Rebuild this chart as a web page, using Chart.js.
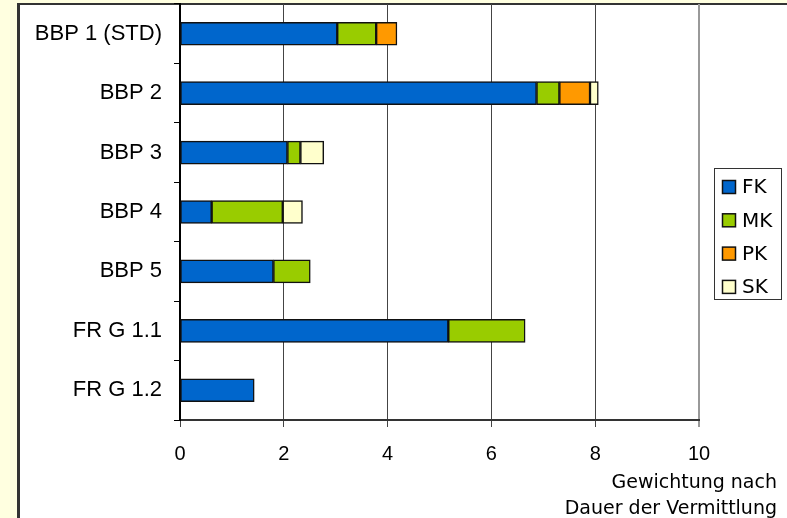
<!DOCTYPE html>
<html>
<head>
<meta charset="utf-8">
<script src="https://cdn.jsdelivr.net/npm/chart.js@4/dist/chart.umd.min.js"></script>
<style>
  html, body { margin: 0; padding: 0; background: #FFFFE0; }
  #wrap { position: relative; width: 787px; height: 518px; }
</style>
</head>
<body>
<div id="wrap"><canvas id="c" width="787" height="518"></canvas></div>
<script>
// Weighted duration per variant, split by component
const categories = ['BBP 1 (STD)', 'BBP 2', 'BBP 3', 'BBP 4', 'BBP 5', 'FR G 1.1', 'FR G 1.2'];
const fk = [3.03, 6.87, 2.07, 0.61, 1.80, 5.17, 1.43];
const mk = [0.75, 0.44, 0.25, 1.37, 0.71, 1.48, null];
const pk = [0.40, 0.59, null, null, null, null, null];
const sk = [null, 0.16, 0.45, 0.38, null, null, null];
const seriesNames = ['FK', 'MK', 'PK', 'SK'];
const seriesColors = ['#0066CC', '#99CC00', '#FF9900', '#FFFFCC'];
const xTicks = [0, 2, 4, 6, 8, 10];
const axisTitle = ['Gewichtung nach', 'Dauer der Vermittlung'];

const seriesValues = [fk, mk, pk, sk];

// Pale frame with dark left/top edge behind the white chart panel
const framePlugin = {
  id: 'frame',
  beforeDraw(chart) {
    const ctx = chart.ctx;
    ctx.save();
    ctx.fillStyle = '#FFFFE0';
    ctx.fillRect(0, 0, chart.width, chart.height);
    ctx.fillStyle = '#FFFFFF';
    ctx.fillRect(19, 4, chart.width - 19, chart.height - 4);
    ctx.fillStyle = '#333333';
    ctx.fillRect(17, 3, chart.width - 17, 2);
    ctx.fillRect(17, 3, 3, chart.height - 3);
    ctx.restore();
  }
};

// Boxed legend to the right of the plot, plus the two-line axis title
const sidePlugin = {
  id: 'side',
  afterDraw(chart) {
    const ctx = chart.ctx;
    ctx.save();
    ctx.strokeStyle = '#333333';
    ctx.lineWidth = 1;
    ctx.strokeRect(714.5, 168.5, 67, 131);
    ctx.font = '20px "DejaVu Sans"';
    ctx.textBaseline = 'middle';
    ctx.textAlign = 'left';
    chart.data.datasets.forEach((ds, i) => {
      const cy = 187 + i * 33.3;
      ctx.fillStyle = ds.backgroundColor;
      ctx.fillRect(722.5, cy - 6.5, 13, 13);
      ctx.strokeStyle = '#111111';
      ctx.lineWidth = 1.5;
      ctx.strokeRect(722.5, cy - 6.5, 13, 13);
      ctx.fillStyle = '#000000';
      ctx.fillText(ds.label, 742, cy + 1);
    });
    ctx.font = '19px "DejaVu Sans"';
    ctx.textAlign = 'right';
    ctx.textBaseline = 'alphabetic';
    ctx.fillText(axisTitle[0], 777, 488);
    ctx.fillText(axisTitle[1], 777, 514);
    ctx.restore();
  }
};

new Chart(document.getElementById('c'), {
  type: 'bar',
  data: {
    labels: categories,
    datasets: seriesNames.map((name, i) => ({
      label: name,
      data: seriesValues[i],
      backgroundColor: seriesColors[i],
      borderColor: '#111111',
      borderWidth: 1.5,
      borderSkipped: false,
      barThickness: 23
    }))
  },
  options: {
    indexAxis: 'y',
    responsive: false,
    animation: false,
    layout: { padding: { top: 4, right: 88, left: 0, bottom: 0 } },
    plugins: {
      legend: { display: false },
      tooltip: { enabled: false },
      title: { display: false }
    },
    scales: {
      x: {
        stacked: true,
        min: 0,
        max: 10,
        afterBuildTicks(scale) { scale.ticks = xTicks.map(v => ({ value: v })); },
        grid: {
          color: ctx => (ctx.tick && ctx.tick.value === 10) ? '#999999' : '#444444',
          lineWidth: ctx => (ctx.tick && ctx.tick.value === 10) ? 2 : 1,
          tickLength: 7
        },
        border: { color: '#333333', width: 2 },
        ticks: {
          color: '#000000',
          font: { family: '"Liberation Sans", Arial, sans-serif', size: 20 },
          padding: 15
        },
        afterFit(scale) { scale.height = 98; scale.paddingLeft = 0; scale.paddingRight = 0; }
      },
      y: {
        stacked: true,
        grid: { drawOnChartArea: false, drawTicks: true, tickLength: 6, color: '#000000', offset: true },
        border: { color: '#000000', width: 2 },
        ticks: {
          color: '#000000',
          font: { family: '"Liberation Sans", Arial, sans-serif', size: 22 },
          padding: 12
        },
        afterFit(scale) { scale.width = 180; scale.paddingTop = 0; scale.paddingBottom = 0; }
      }
    }
  },
  plugins: [framePlugin, sidePlugin]
});
</script>
</body>
</html>
